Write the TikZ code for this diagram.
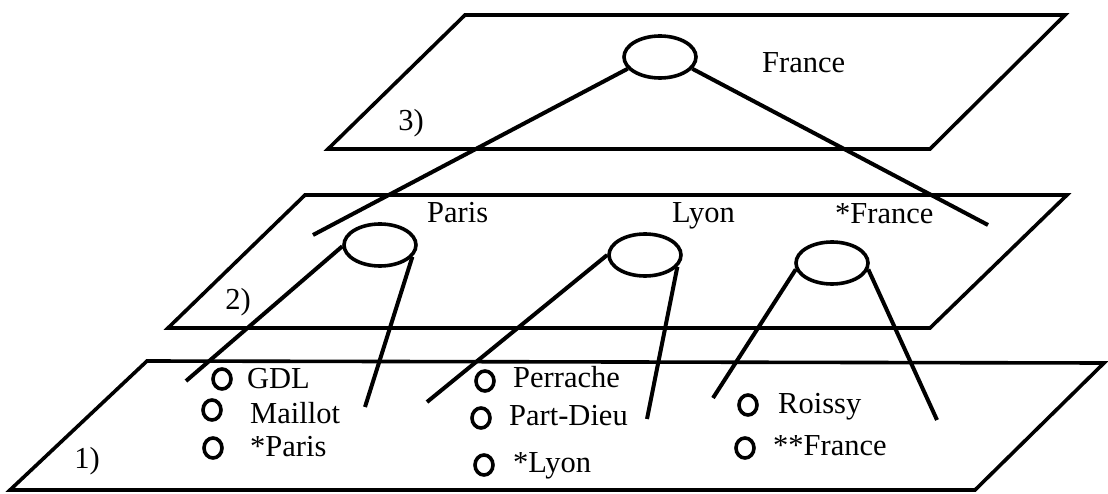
\documentclass[tikz,border=0pt]{standalone}
\usepackage{fontspec}
\setmainfont{Liberation Serif}
\usetikzlibrary{shapes.geometric}
\begin{document}
\begin{tikzpicture}[x=1pt,y=-1pt,
  plane/.style={line width=3.6pt, line join=miter},
  grp/.style={draw, ellipse, line width=3.6pt, minimum width=72pt, minimum height=42pt, inner sep=0pt},
  link/.style={line width=4pt},
  dot/.style={draw, ellipse, line width=3.6pt, minimum width=18pt, minimum height=20pt, inner sep=0pt},
  lbl/.style={font=\fontsize{30.5}{36}\selectfont, inner sep=0pt, anchor=base west},
  tag/.style={font=\fontsize{30.5}{36}\selectfont, inner sep=0pt}]
\useasboundingbox (0,0) rectangle (1108,494);

% the three levels
\draw[plane] (465,15) -- (1065,15) -- (930,149) -- (328,149) -- cycle;
\draw[plane] (305,195) -- (1067,195) -- (930,328) -- (168,328) -- cycle;
\draw[plane] (147,361) -- (1104,363) -- (975,490) -- (10,490) -- cycle;

% level numbers
\node[tag] (t3) at (411,123) {3)};
\node[tag] (t2) at (238,302) {2)};
\node[tag] (t1) at (87,461) {1)};

% group nodes
\node[grp] (e3) at (660,57) {};
\node[grp] (eP) at (380,245) {};
\node[grp] (eL) at (645,255) {};
\node[grp] (eF) at (832,263) {};

% free ends of the cones
\coordinate (a3) at (313,235);
\coordinate (b3) at (988,225);
\coordinate (aP) at (186,381);
\coordinate (bP) at (365,407);
\coordinate (aL) at (427,402);
\coordinate (bL) at (647,419);
\coordinate (aF) at (713,398);
\coordinate (bF) at (937,420);

\draw[link] (e3.200) -- (a3);
\draw[link] (e3.340) -- (b3);
\draw[link] (eP.182) -- (aP);
\draw[link] (eP.340) -- (bP);
\draw[link] (eL.180) -- (aL);
\draw[link] (eL.340) -- (bL);
\draw[link] (eF.190) -- (aF);
\draw[link] (eF.350) -- (bF);

% group labels
\node[lbl] (lF3) at (762,73) {France};
\node[lbl] (lP) at (427,223) {Paris};
\node[lbl] (lL) at (672,223) {Lyon};
\node[lbl] (lF2) at (835,224) {*France};

% stations
\node[dot] (d1) at (222,379) {};
\node[lbl] (s1) at (247,388) {GDL};
\node[dot] (d2) at (212,410) {};
\node[lbl] (s2) at (250,423) {Maillot};
\node[dot] (d3) at (213,448) {};
\node[lbl] (s3) at (250,456) {*Paris};
\node[dot] (d4) at (485,381) {};
\node[lbl] (s4) at (513,387) {Perrache};
\node[dot] (d5) at (481,418) {};
\node[lbl] (s5) at (509,425) {Part-Dieu};
\node[dot] (d6) at (484,465) {};
\node[lbl] (s6) at (513,472) {*Lyon};
\node[dot] (d7) at (748,405) {};
\node[lbl] (s7) at (778,413) {Roissy};
\node[dot] (d8) at (745,448) {};
\node[lbl] (s8) at (773,455) {**France};
\end{tikzpicture}
\end{document}
